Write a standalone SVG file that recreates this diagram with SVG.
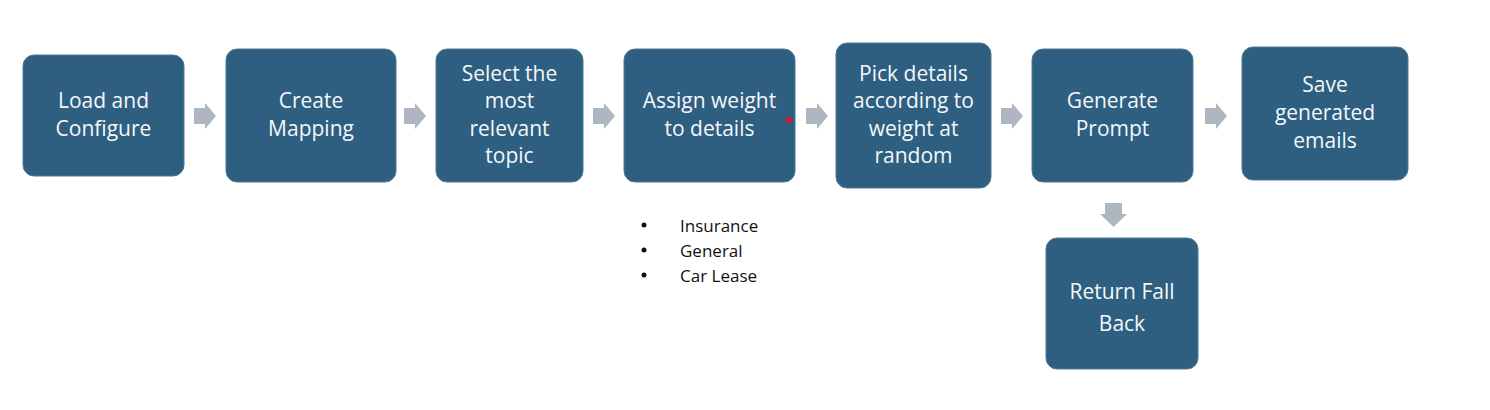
<svg xmlns="http://www.w3.org/2000/svg" width="1490" height="410" viewBox="0 0 1490 410">
<style>
.box{fill:#2E5F80;stroke:#4F7A96;stroke-width:1}
.t{font-family:"Open Sans","Liberation Sans",sans-serif;font-size:21px;fill:#F4F7FA;text-anchor:middle}
.b{font-family:"Open Sans","Liberation Sans",sans-serif;font-size:17px;fill:#111}
.arr{fill:#AEB7C1}
</style>
<rect width="1490" height="410" fill="#fff"/>
<g id="connectors">
<path class="arr" d="M194,108 H205 V103 L216,116 L205,129 V124 H194 Z"/>
<path class="arr" d="M404,108 H415 V103 L426,116 L415,129 V124 H404 Z"/>
<path class="arr" d="M593,108 H604 V103 L615,116 L604,129 V124 H593 Z"/>
<path class="arr" d="M806,108 H817 V103 L828,116 L817,129 V124 H806 Z"/>
<path class="arr" d="M1001,108 H1012 V103 L1023,116 L1012,129 V124 H1001 Z"/>
<path class="arr" d="M1205,108 H1216 V103 L1227,116 L1216,129 V124 H1205 Z"/>
<path class="arr" d="M1105,203 H1122 V214 H1127 L1113.5,227 L1100,214 H1105 Z"/>
</g>
<g id="n1"><rect class="box" x="23" y="55" width="161" height="121" rx="11"/>
<text class="t" x="103.5" y="108">Load and</text><text class="t" x="103.5" y="136">Configure</text></g>
<g id="n2"><rect class="box" x="226" y="49" width="170" height="133" rx="11"/>
<text class="t" x="311" y="108">Create</text><text class="t" x="311" y="136">Mapping</text></g>
<g id="n3"><rect class="box" x="436" y="49" width="147" height="133" rx="11"/>
<text class="t" x="509.5" y="81">Select the</text><text class="t" x="509.5" y="108">most</text><text class="t" x="509.5" y="136">relevant</text><text class="t" x="509.5" y="163">topic</text></g>
<g id="n4"><rect class="box" x="624" y="49" width="171" height="133" rx="11"/>
<text class="t" x="709.5" y="108">Assign weight</text><text class="t" x="709.5" y="136">to details</text>
<circle cx="789" cy="120" r="3" fill="#E8141B"/></g>
<g id="n5"><rect class="box" x="836" y="43" width="155" height="145" rx="11"/>
<text class="t" x="913.5" y="81">Pick details</text><text class="t" x="913.5" y="108">according to</text><text class="t" x="913.5" y="136">weight at</text><text class="t" x="913.5" y="163">random</text></g>
<g id="n6"><rect class="box" x="1032" y="49" width="161" height="133" rx="11"/>
<text class="t" x="1112.5" y="108">Generate</text><text class="t" x="1112.5" y="136">Prompt</text></g>
<g id="n7"><rect class="box" x="1242" y="47" width="166" height="133" rx="11"/>
<text class="t" x="1325" y="92">Save</text><text class="t" x="1325" y="120">generated</text><text class="t" x="1325" y="148">emails</text></g>
<g id="n8"><rect class="box" x="1046" y="238" width="152" height="131" rx="11"/>
<text class="t" x="1122" y="299">Return Fall</text><text class="t" x="1122" y="331">Back</text></g>
<g id="notes">
<circle cx="644" cy="225" r="2.5" fill="#111"/><text class="b" x="680" y="232">Insurance</text>
<circle cx="644" cy="250" r="2.5" fill="#111"/><text class="b" x="680" y="257">General</text>
<circle cx="644" cy="275" r="2.5" fill="#111"/><text class="b" x="680" y="282">Car Lease</text>
</g>
</svg>
